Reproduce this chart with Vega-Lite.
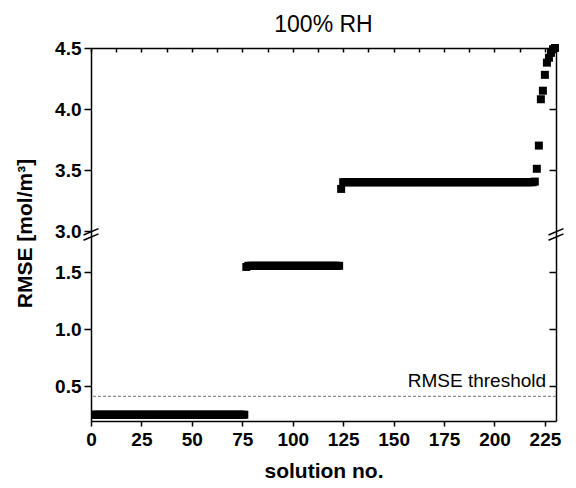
{
"$schema": "https://vega.github.io/schema/vega-lite/v6.json",
"background": "white",
"padding": {"left": 14, "top": 14, "right": 5, "bottom": 5},
"spacing": 0,
"bounds": "flush",
"config": {
  "view": {"stroke": null},
  "axis": {"grid": false, "domainColor": "black", "tickColor": "black", "domainWidth": 1.5, "tickWidth": 1.5, "labelColor": "black", "labelFont": "Liberation Sans", "labelFontWeight": "bold", "labelFontSize": 19, "titleFont": "Liberation Sans", "titleFontWeight": "bold", "titleFontSize": 21, "titleColor": "black", "labelFlush": false, "labelOverlap": false}
},
"datasets": {"rows": [
{"n":1,"rmse":0.25},{"n":2,"rmse":0.25},{"n":3,"rmse":0.25},{"n":4,"rmse":0.25},{"n":5,"rmse":0.25},{"n":6,"rmse":0.25},{"n":7,"rmse":0.25},{"n":8,"rmse":0.25},{"n":9,"rmse":0.25},{"n":10,"rmse":0.25},
{"n":11,"rmse":0.25},{"n":12,"rmse":0.25},{"n":13,"rmse":0.25},{"n":14,"rmse":0.25},{"n":15,"rmse":0.25},{"n":16,"rmse":0.25},{"n":17,"rmse":0.25},{"n":18,"rmse":0.25},{"n":19,"rmse":0.25},{"n":20,"rmse":0.25},
{"n":21,"rmse":0.25},{"n":22,"rmse":0.25},{"n":23,"rmse":0.25},{"n":24,"rmse":0.25},{"n":25,"rmse":0.25},{"n":26,"rmse":0.25},{"n":27,"rmse":0.25},{"n":28,"rmse":0.25},{"n":29,"rmse":0.25},{"n":30,"rmse":0.25},
{"n":31,"rmse":0.25},{"n":32,"rmse":0.25},{"n":33,"rmse":0.25},{"n":34,"rmse":0.25},{"n":35,"rmse":0.25},{"n":36,"rmse":0.25},{"n":37,"rmse":0.25},{"n":38,"rmse":0.25},{"n":39,"rmse":0.25},{"n":40,"rmse":0.25},
{"n":41,"rmse":0.25},{"n":42,"rmse":0.25},{"n":43,"rmse":0.25},{"n":44,"rmse":0.25},{"n":45,"rmse":0.25},{"n":46,"rmse":0.25},{"n":47,"rmse":0.25},{"n":48,"rmse":0.25},{"n":49,"rmse":0.25},{"n":50,"rmse":0.25},
{"n":51,"rmse":0.25},{"n":52,"rmse":0.25},{"n":53,"rmse":0.25},{"n":54,"rmse":0.25},{"n":55,"rmse":0.25},{"n":56,"rmse":0.25},{"n":57,"rmse":0.25},{"n":58,"rmse":0.25},{"n":59,"rmse":0.25},{"n":60,"rmse":0.25},
{"n":61,"rmse":0.25},{"n":62,"rmse":0.25},{"n":63,"rmse":0.25},{"n":64,"rmse":0.25},{"n":65,"rmse":0.25},{"n":66,"rmse":0.25},{"n":67,"rmse":0.25},{"n":68,"rmse":0.25},{"n":69,"rmse":0.25},{"n":70,"rmse":0.25},
{"n":71,"rmse":0.25},{"n":72,"rmse":0.25},{"n":73,"rmse":0.25},{"n":74,"rmse":0.25},{"n":75,"rmse":0.25},{"n":76,"rmse":0.25},
{"n":77,"rmse":1.545},{"n":78,"rmse":1.555},{"n":79,"rmse":1.555},{"n":80,"rmse":1.555},
{"n":81,"rmse":1.555},{"n":82,"rmse":1.555},{"n":83,"rmse":1.555},{"n":84,"rmse":1.555},{"n":85,"rmse":1.555},{"n":86,"rmse":1.555},{"n":87,"rmse":1.555},{"n":88,"rmse":1.555},{"n":89,"rmse":1.555},{"n":90,"rmse":1.555},
{"n":91,"rmse":1.555},{"n":92,"rmse":1.555},{"n":93,"rmse":1.555},{"n":94,"rmse":1.555},{"n":95,"rmse":1.555},{"n":96,"rmse":1.555},{"n":97,"rmse":1.555},{"n":98,"rmse":1.555},{"n":99,"rmse":1.555},{"n":100,"rmse":1.555},
{"n":101,"rmse":1.555},{"n":102,"rmse":1.555},{"n":103,"rmse":1.555},{"n":104,"rmse":1.555},{"n":105,"rmse":1.555},{"n":106,"rmse":1.555},{"n":107,"rmse":1.555},{"n":108,"rmse":1.555},{"n":109,"rmse":1.555},{"n":110,"rmse":1.555},
{"n":111,"rmse":1.555},{"n":112,"rmse":1.555},{"n":113,"rmse":1.555},{"n":114,"rmse":1.555},{"n":115,"rmse":1.555},{"n":116,"rmse":1.555},{"n":117,"rmse":1.555},{"n":118,"rmse":1.555},{"n":119,"rmse":1.555},{"n":120,"rmse":1.555},
{"n":121,"rmse":1.555},{"n":122,"rmse":1.555},{"n":123,"rmse":1.555},
{"n":124,"rmse":3.345},{"n":125,"rmse":3.4},{"n":126,"rmse":3.4},{"n":127,"rmse":3.4},{"n":128,"rmse":3.4},{"n":129,"rmse":3.4},{"n":130,"rmse":3.4},
{"n":131,"rmse":3.4},{"n":132,"rmse":3.4},{"n":133,"rmse":3.4},{"n":134,"rmse":3.4},{"n":135,"rmse":3.4},{"n":136,"rmse":3.4},{"n":137,"rmse":3.4},{"n":138,"rmse":3.4},{"n":139,"rmse":3.4},{"n":140,"rmse":3.4},
{"n":141,"rmse":3.4},{"n":142,"rmse":3.4},{"n":143,"rmse":3.4},{"n":144,"rmse":3.4},{"n":145,"rmse":3.4},{"n":146,"rmse":3.4},{"n":147,"rmse":3.4},{"n":148,"rmse":3.4},{"n":149,"rmse":3.4},{"n":150,"rmse":3.4},
{"n":151,"rmse":3.4},{"n":152,"rmse":3.4},{"n":153,"rmse":3.4},{"n":154,"rmse":3.4},{"n":155,"rmse":3.4},{"n":156,"rmse":3.4},{"n":157,"rmse":3.4},{"n":158,"rmse":3.4},{"n":159,"rmse":3.4},{"n":160,"rmse":3.4},
{"n":161,"rmse":3.4},{"n":162,"rmse":3.4},{"n":163,"rmse":3.4},{"n":164,"rmse":3.4},{"n":165,"rmse":3.4},{"n":166,"rmse":3.4},{"n":167,"rmse":3.4},{"n":168,"rmse":3.4},{"n":169,"rmse":3.4},{"n":170,"rmse":3.4},
{"n":171,"rmse":3.4},{"n":172,"rmse":3.4},{"n":173,"rmse":3.4},{"n":174,"rmse":3.4},{"n":175,"rmse":3.4},{"n":176,"rmse":3.4},{"n":177,"rmse":3.4},{"n":178,"rmse":3.4},{"n":179,"rmse":3.4},{"n":180,"rmse":3.4},
{"n":181,"rmse":3.4},{"n":182,"rmse":3.4},{"n":183,"rmse":3.4},{"n":184,"rmse":3.4},{"n":185,"rmse":3.4},{"n":186,"rmse":3.4},{"n":187,"rmse":3.4},{"n":188,"rmse":3.4},{"n":189,"rmse":3.4},{"n":190,"rmse":3.4},
{"n":191,"rmse":3.4},{"n":192,"rmse":3.4},{"n":193,"rmse":3.4},{"n":194,"rmse":3.4},{"n":195,"rmse":3.4},{"n":196,"rmse":3.4},{"n":197,"rmse":3.4},{"n":198,"rmse":3.4},{"n":199,"rmse":3.4},{"n":200,"rmse":3.4},
{"n":201,"rmse":3.4},{"n":202,"rmse":3.4},{"n":203,"rmse":3.4},{"n":204,"rmse":3.4},{"n":205,"rmse":3.4},{"n":206,"rmse":3.4},{"n":207,"rmse":3.4},{"n":208,"rmse":3.4},{"n":209,"rmse":3.4},{"n":210,"rmse":3.4},
{"n":211,"rmse":3.4},{"n":212,"rmse":3.4},{"n":213,"rmse":3.4},{"n":214,"rmse":3.4},{"n":215,"rmse":3.4},{"n":216,"rmse":3.4},{"n":217,"rmse":3.4},{"n":218,"rmse":3.4},{"n":219,"rmse":3.4},{"n":220,"rmse":3.405},
{"n":221,"rmse":3.51},{"n":222,"rmse":3.7},{"n":223,"rmse":4.08},{"n":224,"rmse":4.15},{"n":225,"rmse":4.28},{"n":226,"rmse":4.38},{"n":227,"rmse":4.42},{"n":228,"rmse":4.46},{"n":229,"rmse":4.49},{"n":230,"rmse":4.5}
], "one": [{}]},
"vconcat": [
{
  "width": 465, "height": 183,
  "title": {"text": "100% RH", "frame": "group", "anchor": "middle", "fontSize": 23, "fontWeight": "normal", "font": "Liberation Sans", "color": "black", "offset": 2},
  "layer": [
    {"data": {"name": "rows"},
     "transform": [{"filter": "datum.rmse >= 3"}],
     "mark": {"type": "point", "shape": "square", "filled": true, "size": 64, "color": "black", "opacity": 1},
     "encoding": {
       "x": {"field": "n", "type": "quantitative", "scale": {"domain": [0, 230.5], "nice": false, "zero": false},
             "axis": {"orient": "top", "labels": false, "title": null, "tickSize": -4, "values": [0,12.5,25,37.5,50,62.5,75,87.5,100,112.5,125,137.5,150,162.5,175,187.5,200,212.5,225]}},
       "y": {"field": "rmse", "type": "quantitative", "scale": {"domain": [3, 4.5], "nice": false, "zero": false},
             "axis": {"orient": "left", "values": [3, 3.5, 4, 4.5], "format": ".1f", "tickSize": 7, "labelPadding": 3, "title": "RMSE [mol/m³]", "titleX": -56, "titleY": 185}}
     }},
    {"data": {"name": "one"},
     "mark": {"type": "rule", "opacity": 0},
     "encoding": {
       "y": {"datum": 4.5, "type": "quantitative", "axis": {"orient": "right", "labels": false, "title": null, "values": [3.5, 4, 4.5], "tickSize": -7}}
     }}
  ],
  "resolve": {"axis": {"y": "independent"}}
},
{
  "width": 465, "height": 190,
  "layer": [
    {"data": {"name": "rows"},
     "transform": [{"filter": "datum.rmse < 3"}],
     "mark": {"type": "point", "shape": "square", "filled": true, "size": 64, "color": "black", "opacity": 1, "clip": true},
     "encoding": {
       "x": {"field": "n", "type": "quantitative", "scale": {"domain": [0, 230.5], "nice": false, "zero": false},
             "axis": {"orient": "bottom", "tickSize": 5, "labelPadding": 4, "title": "solution no.", "titlePadding": 11, "values": [0,12.5,25,37.5,50,62.5,75,87.5,100,112.5,125,137.5,150,162.5,175,187.5,200,212.5,225], "labelExpr": "datum.value % 25 === 0 ? datum.label : ''"}},
       "y": {"field": "rmse", "type": "quantitative", "scale": {"domain": [0.195, 1.86], "nice": false, "zero": false},
             "axis": {"orient": "left", "values": [0.5, 1, 1.5], "format": ".1f", "tickSize": 7, "labelPadding": 3, "title": null}}
     }},
    {"data": {"name": "one"},
     "mark": {"type": "rule", "color": "#8c8c8c", "strokeDash": [3, 2], "strokeWidth": 1.2},
     "encoding": {
       "y": {"datum": 0.41, "type": "quantitative", "axis": {"orient": "right", "labels": false, "title": null, "values": [0.5, 1, 1.5], "tickSize": -7}}
     }},
    {"data": {"name": "one"},
     "mark": {"type": "text", "text": "RMSE threshold", "align": "right", "baseline": "alphabetic", "dy": -9, "fontSize": 19, "font": "Liberation Sans", "color": "black"},
     "encoding": {
       "x": {"datum": 225.6, "type": "quantitative"},
       "y": {"datum": 0.41, "type": "quantitative", "axis": null}
     }},
    {"data": {"name": "one"},
     "mark": {"type": "point", "shape": "M -1 0.075 L 1 -0.775 M -1 0.775 L 1 -0.075", "size": 225, "stroke": "black", "strokeWidth": 1.5, "filled": false, "opacity": 1},
     "encoding": {
       "x": {"datum": 0, "type": "quantitative"},
       "y": {"datum": 1.83, "type": "quantitative", "axis": null}
     }},
    {"data": {"name": "one"},
     "mark": {"type": "point", "shape": "M -1 0.075 L 1 -0.775 M -1 0.775 L 1 -0.075", "size": 225, "stroke": "black", "strokeWidth": 1.5, "filled": false, "opacity": 1},
     "encoding": {
       "x": {"datum": 230.5, "type": "quantitative"},
       "y": {"datum": 1.83, "type": "quantitative", "axis": null}
     }}
  ],
  "resolve": {"axis": {"y": "independent"}}
}
]
}
